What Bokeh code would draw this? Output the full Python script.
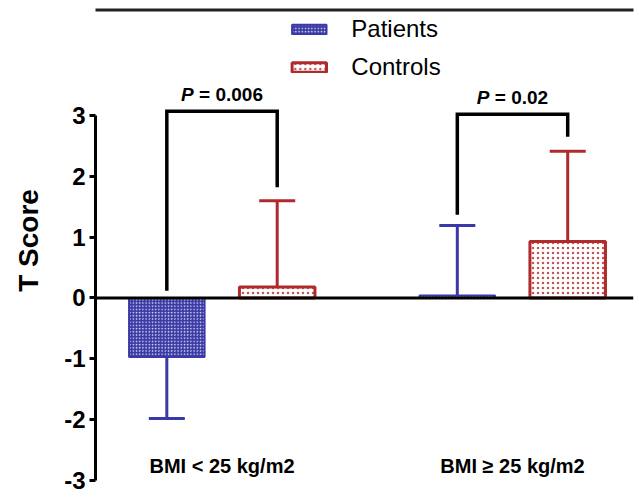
from bokeh.plotting import figure
from bokeh.models import (ColumnDataSource, FixedTicker, Legend, LegendItem,
                          PrintfTickFormatter, BoxAnnotation)
from bokeh.core.properties import value
from bokeh.embed import file_html
from bokeh.resources import INLINE

# ---- data ----
groups = ["BMI < 25 kg/m2", "BMI \u2265 25 kg/m2"]
series = ["Patients", "Controls"]
patients_mean = [-0.97, 0.04]
patients_err_end = [-1.98, 1.19]
controls_mean = [0.18, 0.93]
controls_err_end = [1.60, 2.41]
p_values = ["0.006", "0.02"]
bracket_top = [3.07, 3.02]
bracket_left_base = [0.12, 1.37]
bracket_right_base = [1.82, 2.65]
y_ticks = [-3, -2, -1, 0, 1, 2, 3]

# ---- styling ----
FONT = "Liberation Sans"
BLUE = "#3a3aa6"
RED = "#b02a2c"
DODGE = 0.19
BAR_W = 0.26
CAP_HALF = 0.062
X0, X1 = -0.4355, 1.4165

idx = list(range(len(groups)))
xp = [i - DODGE for i in idx]
xc = [i + DODGE for i in idx]

p = figure(width=639, height=497, x_range=(X0, X1), y_range=(-3, 4.89),
           output_backend="svg", toolbar_location=None,
           min_border_left=95, min_border_right=6, min_border_top=0, min_border_bottom=17)
p.xgrid.visible = False
p.ygrid.visible = False
p.xaxis.visible = False
p.outline_line_color = None

ax = p.yaxis[0]
ax.ticker = FixedTicker(ticks=y_ticks)
ax.formatter = PrintfTickFormatter(format="%d")
ax.bounds = (-3, 3)
ax.axis_line_width = 3
ax.major_tick_line_width = 3
ax.major_tick_out = 6
ax.major_tick_in = 0
ax.minor_tick_line_color = None
ax.major_label_text_font = FONT
ax.major_label_text_font_style = "bold"
ax.major_label_text_font_size = "24px"
ax.major_label_text_color = "black"
ax.major_label_standoff = 4
ax.axis_label = "T Score"
ax.axis_label_text_font = FONT
ax.axis_label_text_font_style = "bold"
ax.axis_label_text_font_size = "28px"
ax.axis_label_text_color = "black"
ax.axis_label_standoff = 17

# picture frame top line (decorative)
p.add_layout(BoxAnnotation(left=0, right=639, top=8, bottom=11, left_units="canvas",
                           right_units="canvas", top_units="canvas", bottom_units="canvas",
                           fill_color="#222222", fill_alpha=1, line_color=None, level="overlay"))

# error bars (one-sided, away from zero)
for xs_, m_, e_, col in ((xp, patients_mean, patients_err_end, BLUE),
                         (xc, controls_mean, controls_err_end, RED)):
    p.segment(x0=xs_, y0=m_, x1=xs_, y1=e_, line_color=col, line_width=3)
    p.segment(x0=[x - CAP_HALF for x in xs_], y0=e_, x1=[x + CAP_HALF for x in xs_], y1=e_,
              line_color=col, line_width=3)

src_p = ColumnDataSource(dict(x=xp, top=patients_mean))
src_c = ColumnDataSource(dict(x=xc, top=controls_mean))
rp = p.vbar(x="x", top="top", bottom=0, width=BAR_W, source=src_p,
            fill_color=BLUE, line_color=BLUE, line_width=2,
            hatch_pattern="dot", hatch_color="white", hatch_scale=3.2, hatch_weight=1.3, hatch_alpha=0.85)
rc = p.vbar(x="x", top="top", bottom=0, width=BAR_W, source=src_c,
            fill_color="white", line_color=RED, line_width=3,
            hatch_pattern="dot", hatch_color=RED, hatch_scale=5, hatch_weight=1.2, hatch_alpha=0.8)

# zero baseline
p.segment(x0=[X0], y0=[0], x1=[X1], y1=[0], line_color="black", line_width=3)

# significance brackets
xs_b = [[xp[i], xp[i], xc[i], xc[i]] for i in idx]
ys_b = [[bracket_left_base[i], bracket_top[i], bracket_top[i], bracket_right_base[i]] for i in idx]
p.multi_line(xs=xs_b, ys=ys_b, line_color="black", line_width=3.5, line_join="miter")

# P-value labels: italic "P" + bold "= value"
CW = {"P": 0.667, " ": 0.278, "=": 0.584, ".": 0.278}
FS = 19
def w(s):
    return sum(CW.get(ch, 0.556) for ch in s) * FS
rest = ["= " + v for v in p_values]
lead = w("P ")
tot = [lead + w(r) for r in rest]
xm = [(xp[i] + xc[i]) / 2 for i in idx]
p.text(x=xm, y=bracket_top, text=["P"] * len(idx), x_offset=[-t / 2 for t in tot], y_offset=-6,
       text_align="left", text_baseline="bottom", text_font=value(FONT),
       text_font_style="bold italic", text_font_size=f"{FS}px", text_color="black")
p.text(x=xm, y=bracket_top, text=rest, x_offset=[-t / 2 + lead for t in tot], y_offset=-6,
       text_align="left", text_baseline="bottom", text_font=value(FONT),
       text_font_style="bold", text_font_size=f"{FS}px", text_color="black")

# group labels
p.text(x=idx, y=[-3] * len(idx), text=groups, y_offset=-15, text_align="center",
       text_baseline="middle", text_font=value(FONT), text_font_style="bold",
       text_font_size="20px", text_color="black")

legend = Legend(items=[LegendItem(label=series[0], renderers=[rp]),
                       LegendItem(label=series[1], renderers=[rc])],
                location="top_center", orientation="vertical",
                glyph_width=43, glyph_height=12, label_standoff=21, spacing=10,
                padding=0, margin=15, border_line_color=None, background_fill_alpha=0,
                label_text_font=FONT, label_text_font_size="24px", label_text_color="black")
p.add_layout(legend)

open("out.html", "w").write(file_html(p, INLINE))
